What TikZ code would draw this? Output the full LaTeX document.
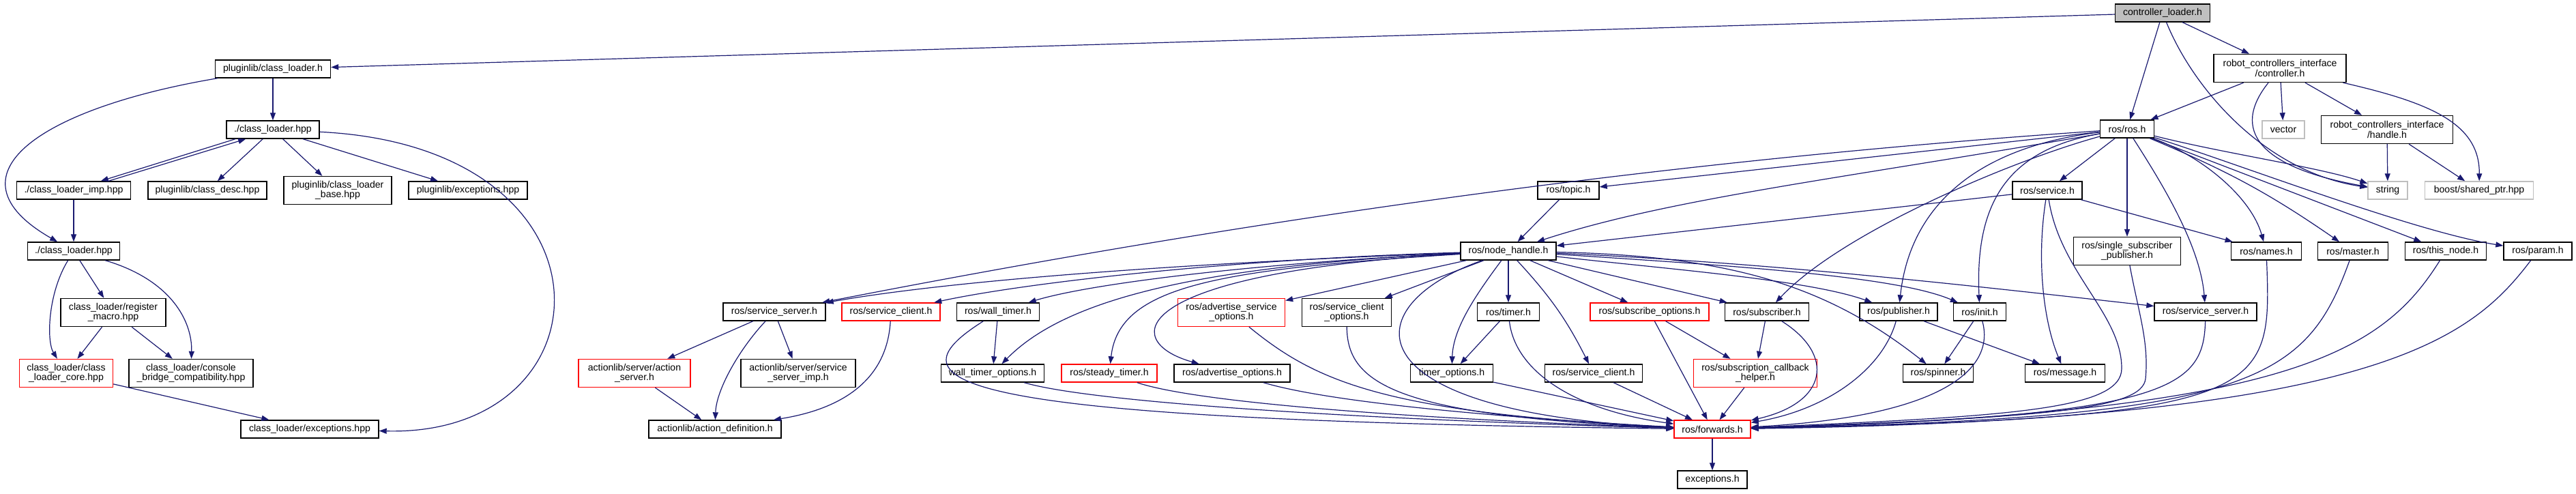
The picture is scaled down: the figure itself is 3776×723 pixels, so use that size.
\documentclass[tikz,border=0pt]{standalone}
\usepackage{fontspec}
\setmainfont{Liberation Sans}
\usetikzlibrary{arrows.meta}
\definecolor{edgeblue}{RGB}{25,25,112}
\definecolor{sysgray}{RGB}{191,191,191}
\definecolor{rootgray}{RGB}{191,191,191}

\begin{document}
\begin{tikzpicture}[x=1pt, y=-1pt,
    hdr/.style={draw=black, fill=white, line width=1.4pt, rectangle, minimum height=26, inner sep=2pt, align=center, font=\fontsize{14.1}{14.3}\selectfont},
    hdrbad/.style={hdr, draw=red},
    hdrsys/.style={hdr, draw=sysgray},
    hdrroot/.style={hdr, fill=rootgray},
    twoline/.style={minimum height=41},
    dep/.style={draw=edgeblue, line width=1.2pt, -{Triangle[length=11pt,width=8pt]}},
    every edge/.style={dep}]
        \path[use as bounding box, fill=white] (0,0) rectangle (3776,723);

        \node[hdrroot, minimum width=139] (cl) at (3170,19) {controller\_loader.h};
        \node[hdr, minimum width=169] (pcl) at (400,101) {pluginlib/class\_loader.h};
        \node[hdr, minimum width=136] (clh) at (400,190) {./class\_loader.hpp};
        \node[hdr, minimum width=167] (imp) at (108,279) {./class\_loader\_imp.hpp};
        \node[hdr, minimum width=174] (desc) at (304,279) {pluginlib/class\_desc.hpp};
        \node[hdr, twoline, minimum width=158] (base) at (495,279) {pluginlib/class\_loader\\\_base.hpp};
        \node[hdr, minimum width=174] (pexc) at (686,279) {pluginlib/exceptions.hpp};
        \node[hdr, minimum width=135] (clh2) at (108,368) {./class\_loader.hpp};
        \node[hdr, twoline, minimum width=154] (regm) at (166,458) {class\_loader/register\\\_macro.hpp};
        \node[hdrbad, twoline, minimum width=137] (core) at (97,547) {class\_loader/class\\\_loader\_core.hpp};
        \node[hdr, twoline, minimum width=182] (cbc) at (280,547) {class\_loader/console\\\_bridge\_compatibility.hpp};
        \node[hdr, minimum width=202] (clexc) at (454,629) {class\_loader/exceptions.hpp};

        \node[hdr, twoline, minimum width=194] (ctrl) at (3342,100) {robot\_controllers\_interface\\/controller.h};
        \node[hdr, minimum width=79] (ros) at (3118,189) {ros/ros.h};
        \node[hdrsys, minimum width=62] (vec) at (3347,190) {vector};
        \node[hdr, twoline, minimum width=193] (hdl) at (3499,190) {robot\_controllers\_interface\\/handle.h};
        \node[hdr, minimum width=90] (topic) at (2299,279) {ros/topic.h};
        \node[hdr, minimum width=102] (srv) at (3001,279) {ros/service.h};
        \node[hdrsys, minimum width=58] (str) at (3500,279) {string};
        \node[hdrsys, minimum width=159] (boost) at (3634,279) {boost/shared\_ptr.hpp};

        \node[hdr, minimum width=140] (nh) at (2211,368) {ros/node\_handle.h};
        \node[hdr, twoline, minimum width=157] (ssp) at (3118,368) {ros/single\_subscriber\\\_publisher.h};
        \node[hdr, minimum width=103] (names) at (3322,368) {ros/names.h};
        \node[hdr, minimum width=103] (master) at (3449,368) {ros/master.h};
        \node[hdr, minimum width=119] (thisnode) at (3585,368) {ros/this\_node.h};
        \node[hdr, minimum width=100] (param) at (3720,368) {ros/param.h};

        \node[hdr, minimum width=150] (ssl) at (1135,457) {ros/service\_server.h};
        \node[hdrbad, minimum width=144] (scr) at (1306,457) {ros/service\_client.h};
        \node[hdr, minimum width=121] (wt) at (1463,457) {ros/wall\_timer.h};
        \node[hdrbad, twoline, minimum width=157] (aso) at (1805,458) {ros/advertise\_service\\\_options.h};
        \node[hdr, twoline, minimum width=131] (sco) at (1974,458) {ros/service\_client\\\_options.h};
        \node[hdr, minimum width=91] (tmr) at (2211,457) {ros/timer.h};
        \node[hdrbad, minimum width=174] (subo) at (2418,457) {ros/subscribe\_options.h};
        \node[hdr, minimum width=123] (sub) at (2590,457) {ros/subscriber.h};
        \node[hdr, minimum width=114] (pub) at (2783,457) {ros/publisher.h};
        \node[hdr, minimum width=77] (init) at (2902,457) {ros/init.h};
        \node[hdr, minimum width=150] (ssr) at (3233,457) {ros/service\_server.h};

        \node[hdrbad, twoline, minimum width=164] (asrv) at (930,547) {actionlib/server/action\\\_server.h};
        \node[hdr, twoline, minimum width=168] (simp) at (1170,547) {actionlib/server/service\\\_server\_imp.h};
        \node[hdr, minimum width=151] (wto) at (1455,547) {wall\_timer\_options.h};
        \node[hdrbad, minimum width=140] (stmr) at (1626,547) {ros/steady\_timer.h};
        \node[hdr, minimum width=170] (ao) at (1806,547) {ros/advertise\_options.h};
        \node[hdr, minimum width=121] (tmo) at (2128,547) {timer\_options.h};
        \node[hdr, minimum width=143] (scb) at (2336,547) {ros/service\_client.h};
        \node[hdrbad, twoline, minimum width=181] (sch) at (2573,547) {ros/subscription\_callback\\\_helper.h};
        \node[hdr, minimum width=103] (spin) at (2841,547) {ros/spinner.h};
        \node[hdr, minimum width=117] (msg) at (3027,547) {ros/message.h};

        \node[hdr, minimum width=194] (adef) at (1048,629) {actionlib/action\_definition.h};
        \node[hdrbad, minimum width=112] (fwd) at (2510,629) {ros/forwards.h};
        \node[hdr, minimum width=102] (exc) at (2510,703) {exceptions.h};

        \path
        (cl) edge (pcl)
        (cl) edge (ros)
        (cl) edge (ctrl)
        (pcl) edge (clh)
        (clh) edge (desc)
        (clh) edge (base)
        (clh) edge (pexc)
        (clh.194) edge (imp.19)
        (imp.15) edge (clh.199)
        (imp) edge (clh2)
        (clh2) edge (regm)
        (regm) edge (core)
        (regm) edge (cbc)
        (core) edge (clexc)
        (ctrl) edge (ros)
        (ctrl) edge (vec)
        (ctrl) edge (hdl)
        (hdl) edge (str)
        (hdl) edge (boost)
        (ros) edge (topic)
        (ros) edge (srv)
        (ros) edge (ssp)
        (ros) edge (thisnode)
        (ros) edge[bend left=6] (master)
        (topic) edge (nh)
        (srv) edge (nh)
        (srv) edge (names)
        (nh) edge (aso)
        (nh) edge (sco)
        (nh) edge (tmr)
        (nh) edge[bend left=8] (scb)
        (nh) edge (subo)
        (nh) edge (sub)
        (ssl) edge (asrv)
        (ssl) edge (simp)
        (asrv) edge (adef)
        (wt) edge (wto)
        (tmr) edge (tmo)
        (tmo) edge (fwd)
        (scb) edge (fwd)
        (subo) edge (fwd)
        (subo) edge (sch)
        (sub) edge (sch)
        (sch) edge (fwd)
        (pub) edge (msg)
        (init) edge (spin)
        (fwd) edge (exc);

        % curved dependencies
        \draw[dep] (cl) .. controls (3215,130) and (3320,252) .. (str);
        \draw[dep] (ctrl) .. controls (3270,190) and (3310,245) .. (str);
        \draw[dep] (ros) .. controls (3260,225) and (3400,245) .. (str);
        \draw[dep] (ctrl) .. controls (3560,150) and (3635,180) .. (boost);
        \draw[dep] (pcl) .. controls (56,159) and (-84,258) .. (clh2);
        \draw[dep] (clh) .. controls (920,215) and (900,640) .. (clexc);
        \draw[dep] (clh2) .. controls (70,430) and (68,500) .. (core);
        \draw[dep] (clh2) .. controls (250,410) and (282,470) .. (cbc);
        \draw[dep] (ssl) .. controls (1085,510) and (1050,570) .. (adef);
        \draw[dep] (scr) .. controls (1300,560) and (1230,600) .. (adef);

        \draw[dep] (ros) .. controls (2400,238) and (1786,330) .. (ssl);
        \draw[dep] (ros) .. controls (2700,262) and (2450,290) .. (nh);
        \draw[dep] (ros) .. controls (2950,235) and (2700,340) .. (sub);
        \draw[dep] (ros) .. controls (2900,215) and (2800,300) .. (pub);
        \draw[dep] (ros) .. controls (2940,220) and (2895,300) .. (init);
        \draw[dep] (ros) .. controls (3170,270) and (3225,360) .. (ssr);
        \draw[dep] (ros) .. controls (3230,230) and (3300,290) .. (names);
        \draw[dep] (ros) .. controls (3280,240) and (3540,340) .. (param);
        \draw[dep] (srv) .. controls (2985,380) and (2995,470) .. (msg);
        \draw[dep] (srv) .. controls (3020,400) and (3110,460) .. (3110,540) .. controls (3110,600) and (2950,610) .. (fwd);

        \draw[dep] (nh) .. controls (1750,385) and (1400,410) .. (ssl);
        \draw[dep] (nh) .. controls (1800,380) and (1500,415) .. (scr);
        \draw[dep] (nh) .. controls (1850,385) and (1600,415) .. (wt);
        \draw[dep] (nh) .. controls (1750,390) and (1560,440) .. (wto);
        \draw[dep] (nh) .. controls (1780,395) and (1640,420) .. (stmr);
        \draw[dep] (nh) .. controls (1650,400) and (1640,500) .. (ao);
        \draw[dep] (nh) .. controls (1980,450) and (1980,605) .. (fwd);
        \draw[dep] (nh) .. controls (2165,430) and (2130,480) .. (tmo);
        \draw[dep] (nh) .. controls (2450,395) and (2650,410) .. (pub);
        \draw[dep] (nh) .. controls (2550,390) and (2780,405) .. (init);
        \draw[dep] (nh) .. controls (2600,385) and (2900,420) .. (ssr);
        \draw[dep] (nh) .. controls (2540,375) and (2680,420) .. (spin);

        \draw[dep] (wt) .. controls (1300,560) and (1370,615) .. (fwd);
        \draw[dep] (wto) .. controls (1600,590) and (2000,615) .. (fwd);
        \draw[dep] (stmr) .. controls (1760,592) and (2100,615) .. (fwd);
        \draw[dep] (ao) .. controls (1950,590) and (2200,612) .. (fwd);
        \draw[dep] (aso) .. controls (1930,560) and (2030,605) .. (fwd);
        \draw[dep] (sco) .. controls (1975,560) and (2040,610) .. (fwd);
        \draw[dep] (tmr) .. controls (2220,540) and (2300,600) .. (fwd);
        \draw[dep] (sub) .. controls (2690,520) and (2680,590) .. (fwd);
        \draw[dep] (pub) .. controls (2760,540) and (2680,600) .. (fwd);
        \draw[dep] (init) .. controls (2925,540) and (2850,610) .. (fwd);
        \draw[dep] (ssp) .. controls (3135,460) and (3150,500) .. (3145,555) .. controls (3140,600) and (3000,612) .. (fwd);
        \draw[dep] (ssr) .. controls (3230,570) and (3180,610) .. (fwd);
        \draw[dep] (names) .. controls (3330,580) and (3330,612) .. (fwd);
        \draw[dep] (master) .. controls (3380,560) and (3300,612) .. (fwd);
        \draw[dep] (thisnode) .. controls (3490,520) and (3350,605) .. (fwd);
        \draw[dep] (param) .. controls (3620,500) and (3480,615) .. (fwd);
\end{tikzpicture}
\end{document}
